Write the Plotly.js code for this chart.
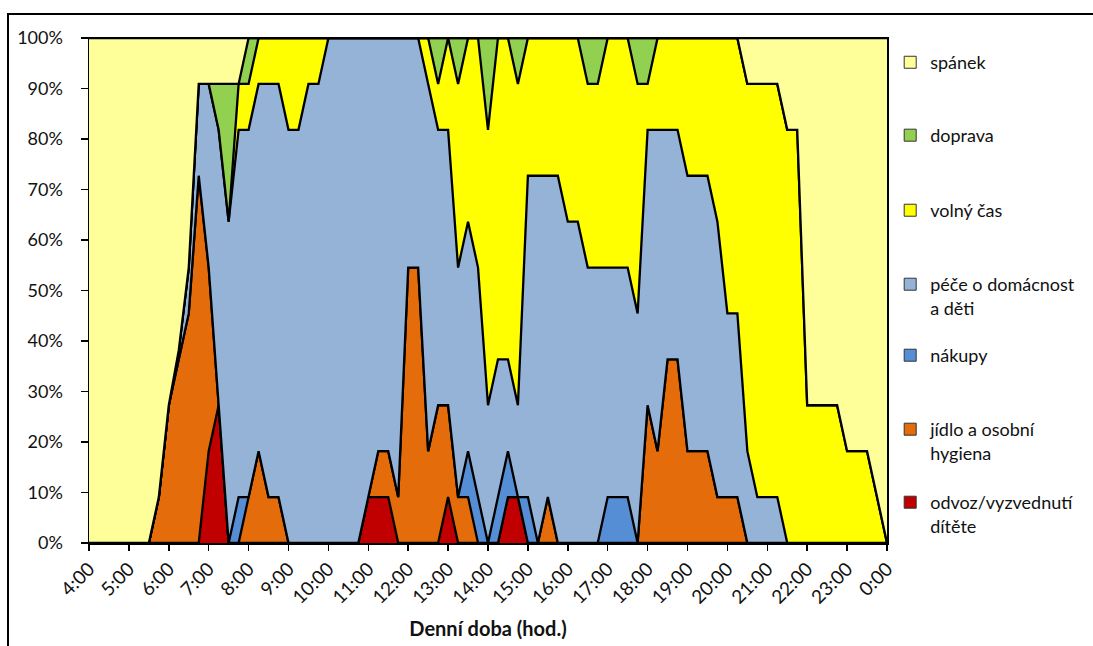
<!DOCTYPE html>
<html>
<head>
<meta charset="utf-8">
<script src="https://cdn.plot.ly/plotly-3.0.1.min.js"></script>
<style>
  html, body { margin: 0; padding: 0; background: #fff; }
  #chart { width: 1093px; height: 646px; }
</style>
</head>
<body>
<div id="chart"></div>
<script>
// 15-minute time categories, 4:00 .. 0:00
const times = [
  "4:00","4:15","4:30","4:45","5:00","5:15","5:30","5:45",
  "6:00","6:15","6:30","6:45","7:00","7:15","7:30","7:45",
  "8:00","8:15","8:30","8:45","9:00","9:15","9:30","9:45",
  "10:00","10:15","10:30","10:45","11:00","11:15","11:30","11:45",
  "12:00","12:15","12:30","12:45","13:00","13:15","13:30","13:45",
  "14:00","14:15","14:30","14:45","15:00","15:15","15:30","15:45",
  "16:00","16:15","16:30","16:45","17:00","17:15","17:30","17:45",
  "18:00","18:15","18:30","18:45","19:00","19:15","19:30","19:45",
  "20:00","20:15","20:30","20:45","21:00","21:15","21:30","21:45",
  "22:00","22:15","22:30","22:45","23:00","23:15","23:30","23:45",
  "0:00"
];
const hourTicks = ["4:00","5:00","6:00","7:00","8:00","9:00","10:00","11:00","12:00","13:00",
  "14:00","15:00","16:00","17:00","18:00","19:00","20:00","21:00","22:00","23:00","0:00"];

// number of respondents (of 11) in each activity, per 15-minute slot
const odvoz = [
  0,0,0,0, 0,0,0,0, 0,0,0,0, 2,3,0,0, 0,0,0,0, 0,0,0,0, 0,0,0,0, 1,1,1,0,
  0,0,0,0, 1,0,0,0, 0,0,1,1, 0,0,0,0, 0,0,0,0, 0,0,0,0, 0,0,0,0, 0,0,0,0,
  0,0,0,0, 0,0,0,0, 0,0,0,0, 0,0,0,0, 0];
const jidlo = [
  0,0,0,0, 0,0,0,1, 3,4,5,8, 4,0,0,0, 1,2,1,1, 0,0,0,0, 0,0,0,0, 0,1,1,1,
  6,6,2,3, 2,1,1,0, 0,0,0,0, 0,0,1,0, 0,0,0,0, 0,0,0,0, 3,2,4,4, 2,2,2,1,
  1,1,0,0, 0,0,0,0, 0,0,0,0, 0,0,0,0, 0];
const nakupy = [
  0,0,0,0, 0,0,0,0, 0,0,0,0, 0,0,0,1, 0,0,0,0, 0,0,0,0, 0,0,0,0, 0,0,0,0,
  0,0,0,0, 0,0,1,1, 0,1,1,0, 1,0,0,0, 0,0,0,0, 1,1,1,0, 0,0,0,0, 0,0,0,0,
  0,0,0,0, 0,0,0,0, 0,0,0,0, 0,0,0,0, 0];
const pece = [
  0,0,0,0, 0,0,0,0, 0,0.2,1,2, 4,6,7,8, 8,8,9,9, 9,9,10,10, 11,11,11,11, 10,9,9,10,
  5,5,8,6, 6,5,5,5, 3,3,2,2, 7,8,7,8, 7,7,6,6, 5,5,5,5, 6,7,5,5, 6,6,6,6,
  4,4,2,1, 1,1,0,0, 0,0,0,0, 0,0,0,0, 0];
const volnyCas = [
  0,0,0,0, 0,0,0,0, 0,0,0,0, 0,0,0,1, 1,1,1,1, 2,2,1,1, 0,0,0,0, 0,0,0,0,
  0,0,1,1, 2,4,4,5, 6,7,7,7, 3,3,3,3, 4,4,4,4, 5,5,5,5, 1,2,2,2, 3,3,3,4,
  6,6,8,9, 9,9,9,9, 3,3,3,3, 2,2,2,1, 0];
const doprava = [
  0,0,0,0, 0,0,0,0, 0,0,0,0, 0,1,3,0, 1,0,0,0, 0,0,0,0, 0,0,0,0, 0,0,0,0,
  0,0,0,1, 0,1,0,0, 2,0,0,1, 0,0,0,0, 0,0,1,1, 0,0,0,1, 1,0,0,0, 0,0,0,0,
  0,0,0,0, 0,0,0,0, 0,0,0,0, 0,0,0,0, 0];
const spanek = [
  11,11,11,11, 11,11,11,10, 8,6.8,5,1, 1,1,1,1, 0,0,0,0, 0,0,0,0, 0,0,0,0, 0,0,0,0,
  0,0,0,0, 0,0,0,0, 0,0,0,0, 0,0,0,0, 0,0,0,0, 0,0,0,0, 0,0,0,0, 0,0,0,0,
  0,0,1,1, 1,1,2,2, 8,8,8,8, 9,9,9,10, 11];

const seriesNames = ["odvoz/vyzvednutí<br>dítěte", "jídlo a osobní<br>hygiena", "nákupy",
  "péče o domácnost<br>a děti", "volný čas", "doprava", "spánek"];
const seriesValues = [odvoz, jidlo, nakupy, pece, volnyCas, doprava, spanek];
const seriesColors = ["#C00000", "#E46C0A", "#558ED5", "#95B3D7", "#FFFF00", "#92D050", "#FFFF99"];

const traces = [];
seriesValues.forEach((vals, k) => {
  traces.push({
    type: 'scatter', mode: 'lines', x: times, y: vals,
    name: seriesNames[k], stackgroup: 'one', groupnorm: 'percent',
    fillcolor: seriesColors[k], line: {color: '#000', width: 2.3, shape: 'linear'},
    showlegend: false, legendgroup: 'g' + k, hoverinfo: 'x+y+name'
  });
});

// legend entries (square swatches like the original), each in its own legend box
const legendIds = ['legend7', 'legend6', 'legend5', 'legend4', 'legend3', 'legend2', 'legend'];
seriesValues.forEach((vals, k) => {
  traces.push({
    type: 'scatter', mode: 'markers', x: [null], y: [null],
    name: seriesNames[k], legendgroup: 'g' + k, legend: legendIds[k],
    marker: {symbol: 'square', size: 12, color: seriesColors[k], line: {color: '#333', width: 1}},
    showlegend: true, hoverinfo: 'skip'
  });
});

const legendTops = [0.988, 0.8436, 0.695, 0.5485, 0.4079, 0.2614, 0.1168];
function legendBox(y) {
  return {x: 1.004, xanchor: 'left', y: y, yanchor: 'top', bgcolor: 'rgba(0,0,0,0)',
    borderwidth: 0, font: {family: 'Lato, sans-serif', size: 18, color: '#111'},
    valign: 'top', itemclick: false, itemdoubleclick: false};
}

const layout = {
  width: 1093, height: 646,
  margin: {l: 89, r: 206, t: 38, b: 103, pad: 0},
  paper_bgcolor: '#fff', plot_bgcolor: '#fff',
  font: {family: 'Lato, sans-serif', size: 18, color: '#111'},
  showlegend: true,
  legend: legendBox(legendTops[0]),
  legend2: legendBox(legendTops[1]),
  legend3: legendBox(legendTops[2]),
  legend4: legendBox(legendTops[3]),
  legend5: legendBox(legendTops[4]),
  legend6: legendBox(legendTops[5]),
  legend7: legendBox(legendTops[6]),
  xaxis: {
    type: 'category', range: [0, 80], tickmode: 'array', tickvals: hourTicks, ticktext: hourTicks,
    tickangle: -45, ticks: 'outside', ticklen: 6, tickwidth: 1.5, tickcolor: '#000',
    showline: true, linecolor: '#000', linewidth: 1.5, mirror: true,
    showgrid: false, zeroline: false, fixedrange: true,
    tickfont: {family: 'Lato, sans-serif', size: 19, color: '#111'},
    title: {text: '<b>Denní doba (hod.)</b>', font: {family: 'Lato, sans-serif', size: 20, color: '#111'}, standoff: 15}
  },
  yaxis: {
    range: [0, 100], tickmode: 'linear', tick0: 0, dtick: 10, ticksuffix: '%',
    ticks: 'outside', ticklen: 7, tickwidth: 1.5, tickcolor: '#000', ticklabelstandoff: 14,
    showline: true, linecolor: '#000', linewidth: 1.5, mirror: true,
    showgrid: false, zeroline: false, fixedrange: true,
    tickfont: {family: 'Lato, sans-serif', size: 18, color: '#111'}
  },
  shapes: [{
    type: 'rect', xref: 'paper', yref: 'paper',
    x0: -0.1015, x1: 1.4, y0: -0.4, y1: 1.0475,
    line: {color: '#000', width: 2}, fillcolor: 'rgba(0,0,0,0)', layer: 'below'
  }]
};

Plotly.newPlot('chart', traces, layout, {displayModeBar: false, staticPlot: true});
</script>
</body>
</html>
